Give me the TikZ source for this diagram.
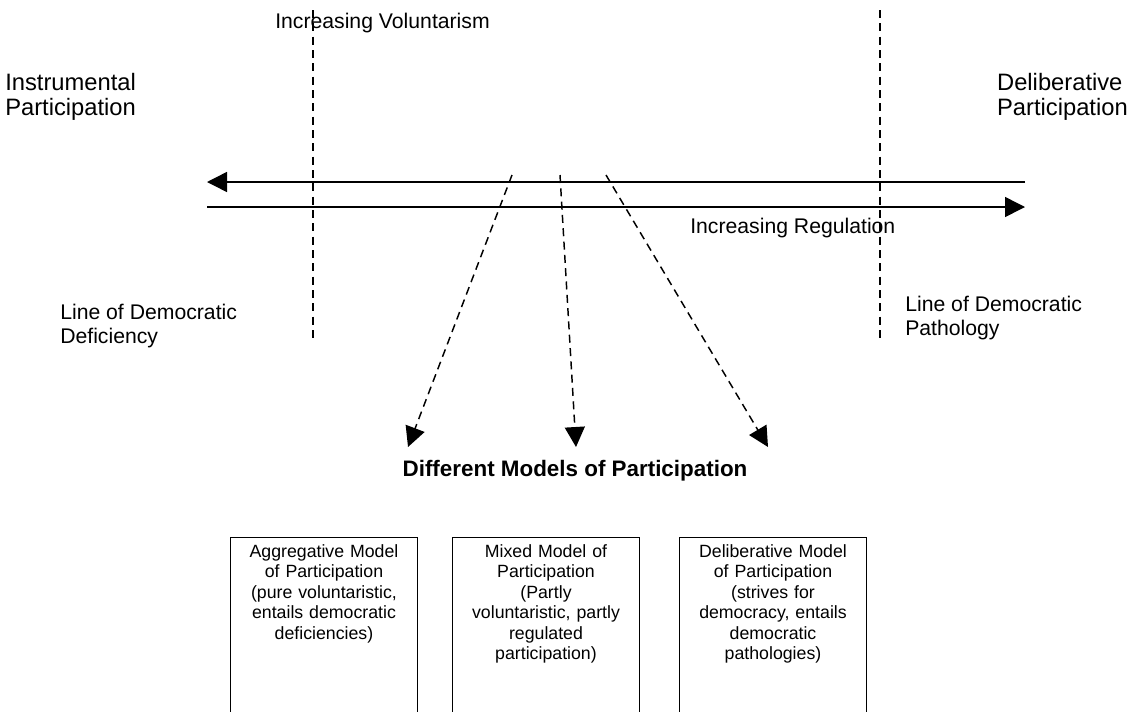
\documentclass[tikz,border=0pt]{standalone}
\usepackage{fontspec}
\setmainfont{Liberation Sans}
\usetikzlibrary{arrows.meta}

\begin{document}
\begin{tikzpicture}[x=0.75pt, y=-0.75pt,
    txt/.style={align=left, inner sep=0pt, font=\fontsize{15.9}{17.5}\selectfont},
    sidetxt/.style={align=left, inner sep=0pt, font=\fontsize{17.8}{18.8}\selectfont},
    modelbox/.style={draw, line width=0.9pt, anchor=north, minimum width=140pt, text width=128pt,
        align=center, inner xsep=6pt, inner ysep=5pt, text depth=150pt,
        font=\fontsize{13.3}{15.4}\selectfont},
    limitline/.style={line width=0.9pt, dash pattern=on 6pt off 4pt},
    scalearrow/.style={line width=1.1pt, -{Triangle[length=15pt, width=15pt]}},
    modelarrow/.style={line width=1.1pt, dash pattern=on 6pt off 4pt, -{Triangle[length=15pt, width=15pt]}}]

    \useasboundingbox (0,0) rectangle (1130,711);

    \coordinate (voltop) at (313,10);
    \coordinate (volbot) at (313,340);
    \coordinate (regtop) at (880,10);
    \coordinate (regbot) at (880,340);
    \coordinate (volstart) at (1025,182);
    \coordinate (volend)   at (207,182);
    \coordinate (regstart) at (207,207);
    \coordinate (regend)   at (1025,207);

    \coordinate (from1) at (512,175);
    \coordinate (from2) at (560,175);
    \coordinate (from3) at (606,175);
    \coordinate (tip1) at (408,447);
    \coordinate (tip2) at (576,447);
    \coordinate (tip3) at (768,447);

    \node[txt, anchor=west] (vol) at (275,23) {Increasing Voluntarism};
    \node[txt, anchor=west] (reg) at (690,228) {Increasing Regulation};
    \node[sidetxt, anchor=west] (instr) at (5,97) {Instrumental\\Participation};
    \node[sidetxt, anchor=east] (delib) at (1128,97) {Deliberative\\Participation};
    \node[txt, anchor=west] (defic) at (60,326) {Line of Democratic\\Deficiency};
    \node[txt, anchor=west] (patho) at (905,318) {Line of Democratic\\Pathology};

    \node[font=\fontsize{16.8}{18}\selectfont\bfseries] (models) at (575,471) {Different Models of Participation};

    \node[modelbox] (aggr) at (324,537) {Aggregative Model\\of Participation\\(pure voluntaristic,\\entails democratic\\deficiencies)};
    \node[modelbox] (mixed) at (546,537) {Mixed Model of\\Participation\\(Partly\\voluntaristic, partly\\regulated\\participation)};
    \node[modelbox] (delmod) at (773,537) {Deliberative Model\\of Participation\\(strives for\\democracy, entails\\democratic\\pathologies)};

    \draw[limitline] (voltop) -- (volbot);
    \draw[limitline] (regtop) -- (regbot);
    \draw[scalearrow] (volstart) -- (volend);
    \draw[scalearrow] (regstart) -- (regend);

    \draw[modelarrow] (from1) -- (tip1);
    \draw[modelarrow] (from2) -- (tip2);
    \draw[modelarrow] (from3) -- (tip3);
\end{tikzpicture}
\end{document}
